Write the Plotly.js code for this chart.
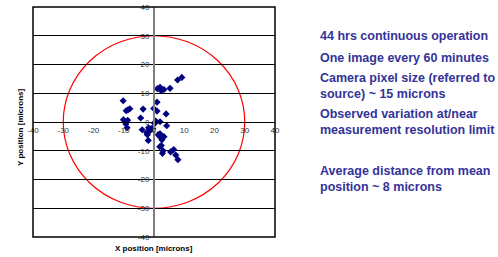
<!DOCTYPE html>
<html><head><meta charset="utf-8">
<script src="https://cdn.plot.ly/plotly-3.0.1.min.js"></script>
<style>body{margin:0;background:#fff}#c{width:498px;height:257px}</style>
</head><body><div id="c"></div>
<script>
const xPos = [9.2,7.8,5.3,3.3,2.4,2.0,1.1,1.0,-10.2,-9.2,-8.6,-8.0,-3.6,-0.1,1.0,4.0,-4.4,-10.1,-8.7,-9.3,-8.9,0.4,0.6,0.2,2.0,4.2,-3.9,-1.8,-0.9,-0.4,-1.2,-2.4,-2.2,-1.9,1.4,1.9,2.0,3.3,2.6,2.4,1.9,3.0,2.8,5.5,6.5,7.2,7.9];
const yPos = [15.5,14.6,11.7,11.3,10.9,12.1,11.6,6.9,7.4,3.9,4.2,4.6,4.5,4.7,3.8,2.8,1.4,0.8,0.6,-0.7,-2.0,-0.1,0.3,-0.5,0.1,-1.3,-2.7,-2.0,-2.3,-2.3,-2.9,-3.7,-4.4,-6.4,-4.4,-5.0,-4.1,-5.1,-6.2,-8.2,-8.6,-10.0,-10.9,-10.4,-9.6,-11.5,-13.1];
const circleRadius = 30;
const axisRange = [-40, 40];
const tickValues = [-40,-30,-20,-10,0,10,20,30,40];
const tickLabels = ['-40','-30','-20','-10','0','10','20','30','40'];
const notes = [
  '44 hrs continuous operation',
  'One image every 60 minutes',
  'Camera pixel size (referred to<br>source) ~ 15 microns',
  'Observed variation at/near<br>measurement resolution limit',
  'Average distance from mean<br>position ~ 8 microns'
];
const noteY = [36, 58, 86, 122, 179];

const trace = {
  x: xPos, y: yPos, type: 'scatter', mode: 'markers',
  marker: {symbol: 'diamond', size: 5.5, color: '#000080'},
  hoverinfo: 'none', cliponaxis: false
};

const axisCommon = {
  range: axisRange, tickvals: tickValues, ticktext: tickLabels,
  tickfont: {family: 'Liberation Sans, Arial', size: 8, color: '#333'},
  ticks: '', zeroline: false, anchor: 'free', position: 0.5, fixedrange: true
};

const annotations = [
  {text: '<b>X position [microns]</b>', xref: 'paper', yref: 'paper', x: 0.5, y: -0.052,
   yanchor: 'middle', xanchor: 'center', showarrow: false,
   font: {family: 'Liberation Sans, Arial', size: 8, color: '#000'}},
  {text: '<b>Y position [microns]</b>', xref: 'paper', yref: 'paper', x: -0.052, y: 0.48,
   xanchor: 'center', yanchor: 'middle', textangle: -90, showarrow: false,
   font: {family: 'Liberation Sans, Arial', size: 8, color: '#000'}}
];
notes.forEach((t, i) => {
  annotations.push({text: '<b>' + t + '</b>', xref: 'paper', yref: 'paper',
    x: (318.5 - 32.5) / 242.5, y: 1 - (noteY[i] - 7) / 230,
    xanchor: 'left', yanchor: 'middle', align: 'left', showarrow: false,
    font: {family: 'Liberation Sans, Arial', size: 12.5, color: '#333399'}});
});

const layout = {
  width: 498, height: 257,
  margin: {l: 32.5, r: 223, t: 7, b: 20, autoexpand: false},
  paper_bgcolor: '#fff', plot_bgcolor: '#fff',
  showlegend: false,
  xaxis: Object.assign({}, axisCommon, {showgrid: false, showline: true, linecolor: '#000', linewidth: 1, side: 'bottom'}),
  yaxis: Object.assign({}, axisCommon, {showgrid: true, gridcolor: '#000', gridwidth: 1,
    showline: true, linecolor: '#808080', linewidth: 2, side: 'left', ticklabelstandoff: 2}),
  shapes: [
    {type: 'circle', xref: 'x', yref: 'y', x0: -circleRadius, x1: circleRadius, y0: -circleRadius, y1: circleRadius,
     line: {color: '#ff0000', width: 1.2}, layer: 'below'},
    {type: 'rect', xref: 'paper', yref: 'paper', x0: 0, x1: 1, y0: 0, y1: 1,
     line: {color: '#000', width: 1.5}, layer: 'above'}
  ],
  annotations: annotations
};

Plotly.newPlot('c', [trace], layout, {staticPlot: true, displayModeBar: false});
</script></body></html>
